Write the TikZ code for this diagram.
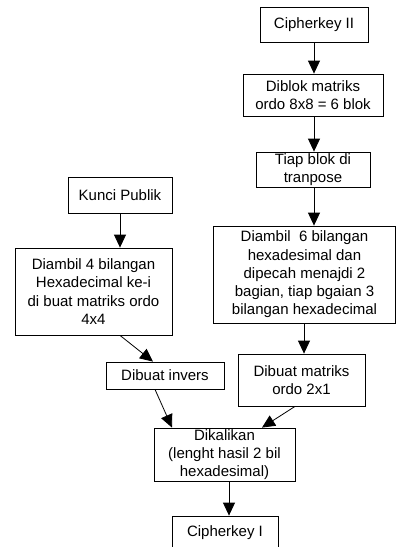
\documentclass[tikz,border=0pt]{standalone}
\usepackage{fontspec}
\setmainfont{Liberation Sans}
\usetikzlibrary{arrows.meta,calc}
\begin{document}
\begin{tikzpicture}[x=1pt,y=-1pt,
  box/.style={draw, line width=0.8pt, inner sep=0pt, align=center,
    font=\fontsize{15}{18.3}\selectfont},
  arr/.style={line width=0.8pt, -{Triangle[length=13pt,width=12pt]}}]
\useasboundingbox (0,0) rectangle (396,547);
\node[box, minimum width=108pt, minimum height=35pt] (ck2) at (314,24.5) {Cipherkey II};
\node[box, minimum width=140pt, minimum height=42pt] (diblok) at (313,95) {Diblok matriks\\ordo 8x8 = 6 blok};
\node[box, minimum width=114pt, minimum height=35pt] (tiap) at (313,169.5) {Tiap blok di\\tranpose};
\node[box, minimum width=104pt, minimum height=36pt] (kunci) at (120,195) {Kunci Publik};
\node[box, minimum width=157pt, minimum height=87pt] (d4) at (93.5,291.5) {Diambil 4 bilangan\\Hexadecimal ke-i\\di buat matriks ordo\\4x4};
\node[box, minimum width=182pt, minimum height=97pt] (d6) at (304.5,274.5) {Diambil\ \ 6 bilangan\\hexadesimal dan\\dipecah menajdi 2\\bagian, tiap bgaian 3\\bilangan hexadecimal};
\node[box, minimum width=118pt, minimum height=27pt] (inv) at (165,375.5) {Dibuat invers};
\node[box, minimum width=127pt, minimum height=52pt] (mat) at (301.5,380) {Dibuat matriks\\ordo 2x1};
\node[box, minimum width=141pt, minimum height=53pt] (dik) at (224.5,454.5) {Dikalikan\\(lenght hasil 2 bil\\hexadesimal)};
\node[box, minimum width=106pt, minimum height=34pt] (ck1) at (225,533) {Cipherkey I};
\draw[arr] (ck2.south) -- (ck2.south |- diblok.north);
\draw[arr] ([xshift=1pt]diblok.south) -- ([xshift=1pt]diblok.south |- tiap.north);
\draw[arr] ([xshift=1pt]tiap.south) -- ([xshift=1pt]tiap.south |- d6.north);
\draw[arr] (kunci.south) -- (kunci.south |- d4.north);
\draw[arr] ([xshift=26.5pt]d4.south) -- ([xshift=-12pt]inv.north);
\draw[arr] ([xshift=-0.5pt]d6.south) -- ([xshift=-0.5pt]d6.south |- mat.north);
\draw[arr] ([xshift=-10pt]inv.south) -- ([xshift=-52.5pt]dik.north);
\draw[arr] ([xshift=-6.5pt]mat.south) -- ([xshift=37.5pt]dik.north);
\draw[arr] ([xshift=4.5pt]dik.south) -- ([xshift=4.5pt]dik.south |- ck1.north);
\end{tikzpicture}
\end{document}
